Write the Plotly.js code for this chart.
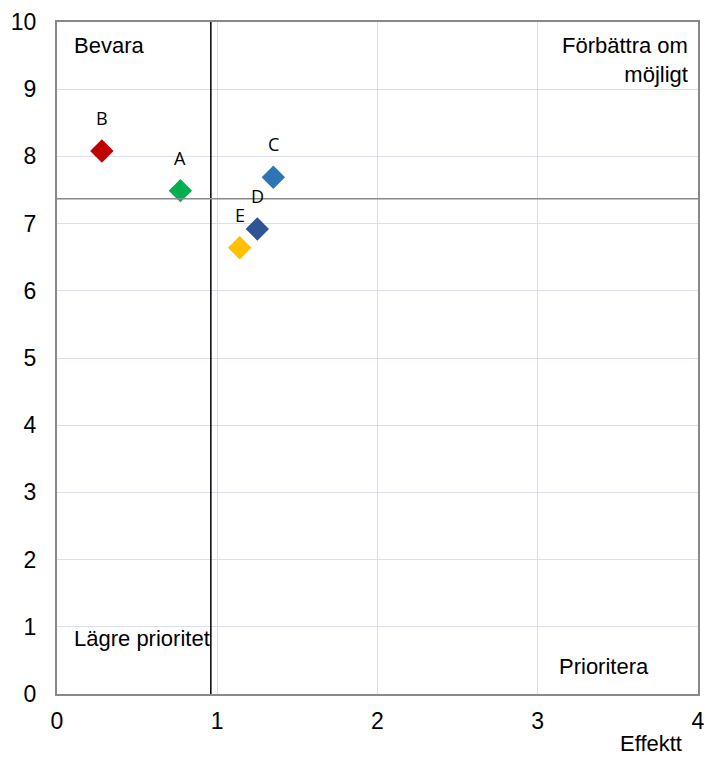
<!DOCTYPE html>
<html><head><meta charset="utf-8">
<script src="https://cdn.plot.ly/plotly-3.0.1.min.js"></script>
<style>body{margin:0;background:#fff}#c{width:706px;height:758px}</style>
</head><body><div id="c"></div>
<script>
var labels = ["A","B","C","D","E"];
var effekt = [0.77, 0.28, 1.35, 1.25, 1.14];
var score = [7.49, 8.08, 7.69, 6.92, 6.64];
var colors = ["#00b050","#c00000","#2e75b6","#2f5597","#ffc000"];
var xCut = 0.96, yCut = 7.37;
var xTicks = [0,1,2,3,4];
var yTicks = [0,1,2,3,4,5,6,7,8,9,10];

var traces = labels.map(function(l,i){
  return {x:[effekt[i]], y:[score[i]], type:'scatter', mode:'markers', name:l,
    marker:{symbol:'diamond', size:18, color:colors[i]}, hoverinfo:'none'};
});

var ann = labels.map(function(l,i){
  return {x:effekt[i], y:score[i], xref:'x', yref:'y', text:l, showarrow:false, yshift:33,
    font:{family:'Open Sans, Noto Sans, sans-serif', size:18, color:'#000'}};
});
var qf = {family:'Liberation Sans, Arial, sans-serif', size:22, color:'#000'};
ann.push({xref:'paper', yref:'paper', x:0.0234, y:0.965, xanchor:'left', yanchor:'middle', text:'Bevara', showarrow:false, font:qf});
ann.push({xref:'paper', yref:'paper', x:0.987, y:0.943, xanchor:'right', yanchor:'middle', align:'right', text:'Förbättra om<br>möjligt', showarrow:false, font:qf});
ann.push({xref:'paper', yref:'paper', x:0.0234, y:0.082, xanchor:'left', yanchor:'middle', text:'Lägre prioritet', showarrow:false, font:qf});
ann.push({xref:'paper', yref:'paper', x:0.926, y:0.041, xanchor:'right', yanchor:'middle', text:'Prioritera', showarrow:false, font:qf});
ann.push({xref:'paper', yref:'paper', x:0.978, y:-0.074, xanchor:'right', yanchor:'middle', text:'Effektt', showarrow:false, font:{family:'Liberation Sans, Arial, sans-serif', size:22, color:'#000'}});

var layout = {
  width:706, height:758,
  margin:{l:57, r:8, t:22, b:64},
  paper_bgcolor:'#fff', plot_bgcolor:'#fff',
  showlegend:false,
  font:{family:'Liberation Sans, Arial, sans-serif', size:23, color:'#000'},
  xaxis:{range:[0,4], tickvals:xTicks, showgrid:true, gridcolor:'#dcdcf5', gridwidth:1,
    zeroline:false, showline:true, linecolor:'#898989', linewidth:2, mirror:true,
    ticks:'', ticklabelstandoff:5, tickfont:{size:23}},
  yaxis:{range:[0,10], tickvals:yTicks, showgrid:true, gridcolor:'#dcdcf5', gridwidth:1,
    zeroline:false, showline:true, linecolor:'#898989', linewidth:2, mirror:true,
    ticks:'', ticklabelstandoff:14, tickfont:{size:23}},
  shapes:[
    {type:'line', xref:'x', yref:'paper', x0:xCut, x1:xCut, y0:0, y1:1, line:{color:'#000', width:1.5}},
    {type:'line', xref:'paper', yref:'y', x0:0, x1:1, y0:yCut, y1:yCut, line:{color:'#898989', width:1.5}}
  ],
  annotations:ann
};
Plotly.newPlot('c', traces, layout, {displayModeBar:false, staticPlot:true});
</script></body></html>
